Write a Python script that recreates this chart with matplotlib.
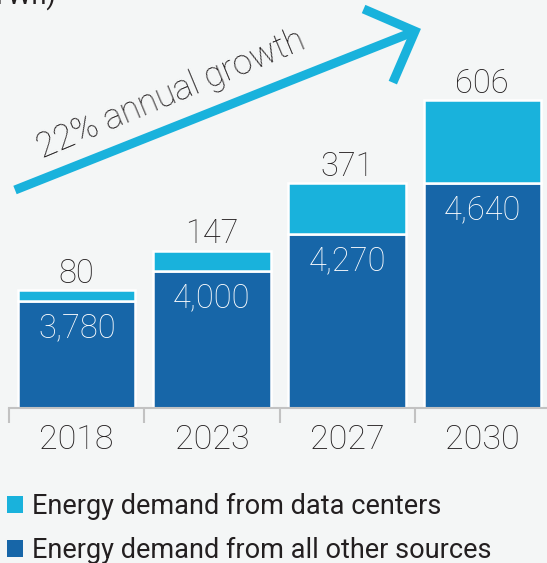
import numpy as np
import matplotlib
matplotlib.use('Agg')
import matplotlib.pyplot as plt
from matplotlib.patches import Patch
from matplotlib.lines import Line2D

# Energy demand (TWh) by year
YEARS = ['2018', '2023', '2027', '2030']
DATA_CENTERS = [80, 147, 371, 606]
OTHER_SOURCES = [3780, 4000, 4270, 4640]
GROWTH_LABEL = '22% annual growth'
LEGEND_LABELS = ['Energy demand from data centers',
                 'Energy demand from all other sources']

# colours
BG = '#f4f6f6'
LIGHT = '#19b2dc'
DARK = '#1766a8'
TEXT = '#231f20'
AXIS = '#c2c2c2'

W, H = 547, 563
FONT = 'Roboto'

plt.rcParams['font.family'] = [FONT, 'DejaVu Sans']

fig = plt.figure(figsize=(W / 100, H / 100), dpi=100, facecolor=BG)
# axes fill the width, bottom sits on the baseline of the bars
ax = fig.add_axes([0, (H - 408) / H, 1, 408 / H], facecolor=BG)

x = np.arange(len(YEARS))
ax.bar(x, OTHER_SOURCES, width=0.869, color=DARK, edgecolor='white', linewidth=1.8)
ax.bar(x, DATA_CENTERS, bottom=OTHER_SOURCES, width=0.869, color=LIGHT,
       edgecolor='white', linewidth=1.8)

# truncated value axis, like the original
ax.set_xlim(-76.7 / 135.2, (W - 76.7) / 135.2)
ax.set_ylim(3000, 3000 + 408 / 0.137)

for xi, o, d in zip(x, OTHER_SOURCES, DATA_CENTERS):
    ax.annotate(f'{d:,}', (xi, o + d), xytext=(0, 5.4), textcoords='offset points',
                ha='center', va='baseline', fontsize=23.5, color=TEXT, fontweight='light')
    ax.annotate(f'{o:,}', (xi, o), xytext=(0, -26), textcoords='offset points',
                ha='center', va='baseline', fontsize=23.5, color='white', fontweight='light')

for s in ['top', 'left', 'right']:
    ax.spines[s].set_visible(False)
ax.spines['bottom'].set_color(AXIS)
ax.spines['bottom'].set_linewidth(1.5)
ax.spines['bottom'].set_bounds(-0.5, ax.get_xlim()[1])
ax.spines['bottom'].set_zorder(3)

ax.set_yticks([])
ax.set_xticks(x)
ax.set_xticklabels(YEARS, fontsize=24.5, color=TEXT, fontweight='light')
ax.set_xticks(x - 0.5, minor=True)
ax.tick_params(axis='x', which='major', length=0, pad=29.7)
ax.tick_params(axis='x', which='minor', direction='out', length=10.8, width=1.5, color=AXIS)
plt.setp(ax.get_xticklabels(), va='baseline')


def fig_pt(xp, yp):
    # pixel position measured from the top-left -> figure fraction
    return xp / W, 1 - yp / H


# growth arrow
tail = np.array([15.0, 190.0])
apex = np.array([415.0, 31.2])
back = (tail - apex) / np.linalg.norm(tail - apex)
c, s = np.cos(np.radians(45)), np.sin(np.radians(45))
arm1 = apex + 56 * np.array([back[0] * c - back[1] * s, back[0] * s + back[1] * c])
arm2 = apex + 56 * np.array([back[0] * c + back[1] * s, -back[0] * s + back[1] * c])

shaft = [fig_pt(*tail), fig_pt(*apex)]
head = [fig_pt(*arm1), fig_pt(*apex), fig_pt(*arm2)]
fig.add_artist(Line2D([p[0] for p in shaft], [p[1] for p in shaft], transform=fig.transFigure,
                      color=LIGHT, lw=6.5, solid_capstyle='butt'))
fig.add_artist(Line2D([p[0] for p in head], [p[1] for p in head], transform=fig.transFigure,
                      color=LIGHT, lw=6.5, solid_capstyle='butt', solid_joinstyle='miter'))

angle = np.degrees(np.arctan2(tail[1] - apex[1], apex[0] - tail[0]))
fig.text(*fig_pt(42, 159), GROWTH_LABEL, rotation=angle + 1, rotation_mode='anchor',
         ha='left', va='baseline', fontsize=25, color=TEXT, fontweight='light')

# cut-off unit label at the very top
fig.text(*fig_pt(56, 4), '(TWh)', ha='right', va='baseline', fontsize=19.5, color=TEXT)

handles = [Patch(facecolor=LIGHT, label=LEGEND_LABELS[0]),
           Patch(facecolor=DARK, label=LEGEND_LABELS[1])]
fig.legend(handles=handles, loc='upper left', bbox_to_anchor=fig_pt(7, 493),
           frameon=False, fontsize=19.5, handlelength=0.58, handleheight=0.58,
           handletextpad=0.36, labelspacing=0.61, borderpad=0, borderaxespad=0,
           labelcolor=TEXT)

fig.savefig('out.png', dpi=100, facecolor=BG)
